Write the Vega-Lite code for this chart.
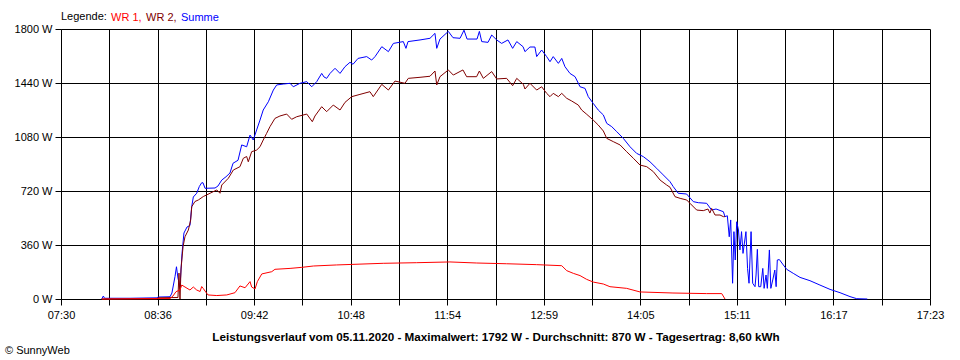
{
  "$schema": "https://vega.github.io/schema/vega-lite/v6.json",
  "width": 869,
  "height": 270,
  "autosize": "none",
  "padding": {"left": 61, "top": 29, "right": 30, "bottom": 61},
  "background": "white",
  "config": {
    "view": {"stroke": null},
    "font": "Liberation Sans",
    "axis": {"labelFont": "Liberation Sans", "labelFontSize": 11, "labelColor": "black", "domainColor": "black", "tickColor": "black", "gridColor": "black", "gridOpacity": 1, "gridWidth": 1, "domainWidth": 1, "tickWidth": 1, "tickSize": 6}
  },
  "title": {"text": "© SunnyWeb", "orient": "bottom", "anchor": "start", "frame": "group", "dx": -56, "offset": 2, "fontSize": 11, "fontWeight": "normal", "font": "Liberation Sans", "color": "black"},
  "datasets": {
    "p": [
      {"t": 477.8, "w": 0, "s": "Summe"}, {"t": 478.9, "w": 20, "s": "Summe"}, {"t": 479.7, "w": 5, "s": "Summe"}, {"t": 497.1, "w": 5, "s": "Summe"}, {"t": 515.5, "w": 8, "s": "Summe"}, {"t": 516.2, "w": 13, "s": "Summe"}, {"t": 524.4, "w": 15, "s": "Summe"}, {"t": 525.7, "w": 40, "s": "Summe"}, {"t": 527.8, "w": 150, "s": "Summe"}, {"t": 528.8, "w": 215, "s": "Summe"}, {"t": 529.8, "w": 140, "s": "Summe"}, {"t": 531.2, "w": 80, "s": "Summe"}, {"t": 532.6, "w": 305, "s": "Summe"}, {"t": 533.9, "w": 440, "s": "Summe"}, {"t": 536.0, "w": 480, "s": "Summe"}, {"t": 538.0, "w": 490, "s": "Summe"}, {"t": 539.2, "w": 615, "s": "Summe"}, {"t": 540.3, "w": 680, "s": "Summe"}, {"t": 542.6, "w": 705, "s": "Summe"}, {"t": 544.4, "w": 750, "s": "Summe"}, {"t": 546.0, "w": 775, "s": "Summe"}, {"t": 546.9, "w": 775, "s": "Summe"}, {"t": 548.3, "w": 738, "s": "Summe"}, {"t": 555.1, "w": 740, "s": "Summe"}, {"t": 557.1, "w": 753, "s": "Summe"}, {"t": 559.7, "w": 793, "s": "Summe"}, {"t": 562.6, "w": 815, "s": "Summe"}, {"t": 565.3, "w": 840, "s": "Summe"}, {"t": 567.4, "w": 905, "s": "Summe"}, {"t": 570.8, "w": 925, "s": "Summe"}, {"t": 573.3, "w": 1027, "s": "Summe"}, {"t": 576.7, "w": 1015, "s": "Summe"}, {"t": 579.0, "w": 1093, "s": "Summe"}, {"t": 581.2, "w": 1060, "s": "Summe"}, {"t": 583.5, "w": 1127, "s": "Summe"}, {"t": 585.8, "w": 1193, "s": "Summe"}, {"t": 588.0, "w": 1260, "s": "Summe"}, {"t": 591.5, "w": 1315, "s": "Summe"}, {"t": 594.9, "w": 1393, "s": "Summe"}, {"t": 597.2, "w": 1427, "s": "Summe"}, {"t": 601.7, "w": 1433, "s": "Summe"}, {"t": 606.3, "w": 1438, "s": "Summe"}, {"t": 608.5, "w": 1415, "s": "Summe"}, {"t": 613.1, "w": 1438, "s": "Summe"}, {"t": 617.7, "w": 1449, "s": "Summe"}, {"t": 621.1, "w": 1415, "s": "Summe"}, {"t": 624.5, "w": 1449, "s": "Summe"}, {"t": 627.9, "w": 1504, "s": "Summe"}, {"t": 629.5, "w": 1480, "s": "Summe"}, {"t": 631.3, "w": 1471, "s": "Summe"}, {"t": 633.6, "w": 1504, "s": "Summe"}, {"t": 637.0, "w": 1538, "s": "Summe"}, {"t": 640.4, "w": 1504, "s": "Summe"}, {"t": 643.8, "w": 1549, "s": "Summe"}, {"t": 647.2, "w": 1578, "s": "Summe"}, {"t": 649.3, "w": 1565, "s": "Summe"}, {"t": 652.7, "w": 1604, "s": "Summe"}, {"t": 658.6, "w": 1616, "s": "Summe"}, {"t": 662.0, "w": 1593, "s": "Summe"}, {"t": 664.3, "w": 1616, "s": "Summe"}, {"t": 668.9, "w": 1682, "s": "Summe"}, {"t": 673.4, "w": 1649, "s": "Summe"}, {"t": 676.8, "w": 1704, "s": "Summe"}, {"t": 683.6, "w": 1716, "s": "Summe"}, {"t": 685.4, "w": 1671, "s": "Summe"}, {"t": 686.8, "w": 1716, "s": "Summe"}, {"t": 695.0, "w": 1727, "s": "Summe"}, {"t": 701.8, "w": 1738, "s": "Summe"}, {"t": 705.2, "w": 1771, "s": "Summe"}, {"t": 706.4, "w": 1671, "s": "Summe"}, {"t": 708.6, "w": 1733, "s": "Summe"}, {"t": 714.3, "w": 1784, "s": "Summe"}, {"t": 717.5, "w": 1742, "s": "Summe"}, {"t": 722.3, "w": 1738, "s": "Summe"}, {"t": 725.0, "w": 1792, "s": "Summe"}, {"t": 727.1, "w": 1733, "s": "Summe"}, {"t": 733.9, "w": 1733, "s": "Summe"}, {"t": 735.5, "w": 1784, "s": "Summe"}, {"t": 737.1, "w": 1716, "s": "Summe"}, {"t": 741.4, "w": 1711, "s": "Summe"}, {"t": 743.9, "w": 1760, "s": "Summe"}, {"t": 747.3, "w": 1727, "s": "Summe"}, {"t": 750.7, "w": 1704, "s": "Summe"}, {"t": 755.0, "w": 1727, "s": "Summe"}, {"t": 758.2, "w": 1671, "s": "Summe"}, {"t": 761.0, "w": 1716, "s": "Summe"}, {"t": 765.3, "w": 1682, "s": "Summe"}, {"t": 766.6, "w": 1649, "s": "Summe"}, {"t": 770.0, "w": 1680, "s": "Summe"}, {"t": 773.4, "w": 1680, "s": "Summe"}, {"t": 774.6, "w": 1616, "s": "Summe"}, {"t": 778.0, "w": 1660, "s": "Summe"}, {"t": 781.4, "w": 1616, "s": "Summe"}, {"t": 783.7, "w": 1582, "s": "Summe"}, {"t": 785.9, "w": 1616, "s": "Summe"}, {"t": 789.4, "w": 1571, "s": "Summe"}, {"t": 791.7, "w": 1604, "s": "Summe"}, {"t": 793.9, "w": 1549, "s": "Summe"}, {"t": 797.3, "w": 1504, "s": "Summe"}, {"t": 800.8, "w": 1482, "s": "Summe"}, {"t": 804.2, "w": 1415, "s": "Summe"}, {"t": 807.6, "w": 1404, "s": "Summe"}, {"t": 809.8, "w": 1349, "s": "Summe"}, {"t": 813.2, "w": 1304, "s": "Summe"}, {"t": 816.6, "w": 1260, "s": "Summe"}, {"t": 820.1, "w": 1227, "s": "Summe"}, {"t": 822.4, "w": 1171, "s": "Summe"}, {"t": 825.8, "w": 1149, "s": "Summe"}, {"t": 829.2, "w": 1116, "s": "Summe"}, {"t": 833.7, "w": 1071, "s": "Summe"}, {"t": 838.3, "w": 1015, "s": "Summe"}, {"t": 842.8, "w": 971, "s": "Summe"}, {"t": 847.4, "w": 949, "s": "Summe"}, {"t": 851.9, "w": 915, "s": "Summe"}, {"t": 856.5, "w": 871, "s": "Summe"}, {"t": 861.0, "w": 827, "s": "Summe"}, {"t": 865.6, "w": 782, "s": "Summe"}, {"t": 867.8, "w": 749, "s": "Summe"}, {"t": 871.2, "w": 705, "s": "Summe"}, {"t": 876.9, "w": 700, "s": "Summe"}, {"t": 881.5, "w": 649, "s": "Summe"}, {"t": 884.9, "w": 642, "s": "Summe"}, {"t": 890.6, "w": 638, "s": "Summe"}, {"t": 894.0, "w": 593, "s": "Summe"}, {"t": 897.0, "w": 600, "s": "Summe"}, {"t": 902.0, "w": 582, "s": "Summe"}, {"t": 903.1, "w": 549, "s": "Summe"}, {"t": 904.7, "w": 555, "s": "Summe"}, {"t": 906.0, "w": 415, "s": "Summe"}, {"t": 907.0, "w": 527, "s": "Summe"}, {"t": 908.3, "w": 105, "s": "Summe"}, {"t": 909.2, "w": 449, "s": "Summe"}, {"t": 910.1, "w": 260, "s": "Summe"}, {"t": 911.1, "w": 515, "s": "Summe"}, {"t": 912.3, "w": 460, "s": "Summe"}, {"t": 913.3, "w": 327, "s": "Summe"}, {"t": 914.4, "w": 449, "s": "Summe"}, {"t": 915.4, "w": 304, "s": "Summe"}, {"t": 917.4, "w": 449, "s": "Summe"}, {"t": 918.5, "w": 204, "s": "Summe"}, {"t": 919.5, "w": 105, "s": "Summe"}, {"t": 920.9, "w": 449, "s": "Summe"}, {"t": 922.0, "w": 105, "s": "Summe"}, {"t": 923.6, "w": 82, "s": "Summe"}, {"t": 924.3, "w": 160, "s": "Summe"}, {"t": 925.2, "w": 331, "s": "Summe"}, {"t": 926.1, "w": 82, "s": "Summe"}, {"t": 927.5, "w": 82, "s": "Summe"}, {"t": 928.9, "w": 204, "s": "Summe"}, {"t": 929.8, "w": 71, "s": "Summe"}, {"t": 931.1, "w": 160, "s": "Summe"}, {"t": 932.0, "w": 71, "s": "Summe"}, {"t": 933.4, "w": 327, "s": "Summe"}, {"t": 934.4, "w": 71, "s": "Summe"}, {"t": 935.7, "w": 127, "s": "Summe"}, {"t": 937.1, "w": 193, "s": "Summe"}, {"t": 938.0, "w": 82, "s": "Summe"}, {"t": 938.8, "w": 260, "s": "Summe"}, {"t": 940.2, "w": 263, "s": "Summe"}, {"t": 942.9, "w": 227, "s": "Summe"}, {"t": 945.2, "w": 198, "s": "Summe"}, {"t": 949.7, "w": 171, "s": "Summe"}, {"t": 954.3, "w": 144, "s": "Summe"}, {"t": 961.1, "w": 122, "s": "Summe"}, {"t": 967.9, "w": 93, "s": "Summe"}, {"t": 974.8, "w": 64, "s": "Summe"}, {"t": 981.6, "w": 42, "s": "Summe"}, {"t": 988.4, "w": 16, "s": "Summe"}, {"t": 993.0, "w": 2, "s": "Summe"}, {"t": 1000.2, "w": 0, "s": "Summe"},

      {"t": 477.8, "w": 0, "s": "WR 2"}, {"t": 515.5, "w": 0, "s": "WR 2"}, {"t": 516.2, "w": 8, "s": "WR 2"}, {"t": 529.8, "w": 10, "s": "WR 2"}, {"t": 530.5, "w": 173, "s": "WR 2"}, {"t": 531.2, "w": 0, "s": "WR 2"}, {"t": 531.9, "w": 200, "s": "WR 2"}, {"t": 533.3, "w": 350, "s": "WR 2"}, {"t": 534.6, "w": 415, "s": "WR 2"}, {"t": 536.9, "w": 460, "s": "WR 2"}, {"t": 538.5, "w": 527, "s": "WR 2"}, {"t": 539.2, "w": 615, "s": "WR 2"}, {"t": 541.4, "w": 650, "s": "WR 2"}, {"t": 543.7, "w": 660, "s": "WR 2"}, {"t": 547.1, "w": 683, "s": "WR 2"}, {"t": 551.7, "w": 705, "s": "WR 2"}, {"t": 556.3, "w": 727, "s": "WR 2"}, {"t": 558.5, "w": 705, "s": "WR 2"}, {"t": 559.7, "w": 760, "s": "WR 2"}, {"t": 564.2, "w": 805, "s": "WR 2"}, {"t": 567.6, "w": 860, "s": "WR 2"}, {"t": 572.1, "w": 882, "s": "WR 2"}, {"t": 574.4, "w": 938, "s": "WR 2"}, {"t": 576.7, "w": 950, "s": "WR 2"}, {"t": 577.8, "w": 915, "s": "WR 2"}, {"t": 580.1, "w": 982, "s": "WR 2"}, {"t": 583.5, "w": 993, "s": "WR 2"}, {"t": 585.8, "w": 1015, "s": "WR 2"}, {"t": 588.0, "w": 1060, "s": "WR 2"}, {"t": 590.3, "w": 1104, "s": "WR 2"}, {"t": 592.6, "w": 1149, "s": "WR 2"}, {"t": 596.0, "w": 1204, "s": "WR 2"}, {"t": 599.4, "w": 1220, "s": "WR 2"}, {"t": 604.0, "w": 1233, "s": "WR 2"}, {"t": 607.4, "w": 1198, "s": "WR 2"}, {"t": 610.8, "w": 1215, "s": "WR 2"}, {"t": 617.7, "w": 1233, "s": "WR 2"}, {"t": 621.5, "w": 1182, "s": "WR 2"}, {"t": 623.3, "w": 1220, "s": "WR 2"}, {"t": 627.9, "w": 1282, "s": "WR 2"}, {"t": 631.3, "w": 1249, "s": "WR 2"}, {"t": 635.8, "w": 1293, "s": "WR 2"}, {"t": 640.4, "w": 1260, "s": "WR 2"}, {"t": 643.8, "w": 1311, "s": "WR 2"}, {"t": 648.4, "w": 1349, "s": "WR 2"}, {"t": 654.0, "w": 1364, "s": "WR 2"}, {"t": 660.8, "w": 1382, "s": "WR 2"}, {"t": 663.1, "w": 1349, "s": "WR 2"}, {"t": 668.9, "w": 1431, "s": "WR 2"}, {"t": 673.4, "w": 1393, "s": "WR 2"}, {"t": 677.9, "w": 1453, "s": "WR 2"}, {"t": 684.7, "w": 1438, "s": "WR 2"}, {"t": 687.0, "w": 1471, "s": "WR 2"}, {"t": 695.0, "w": 1478, "s": "WR 2"}, {"t": 701.8, "w": 1485, "s": "WR 2"}, {"t": 705.2, "w": 1520, "s": "WR 2"}, {"t": 706.4, "w": 1427, "s": "WR 2"}, {"t": 708.6, "w": 1482, "s": "WR 2"}, {"t": 714.3, "w": 1527, "s": "WR 2"}, {"t": 717.7, "w": 1493, "s": "WR 2"}, {"t": 724.3, "w": 1527, "s": "WR 2"}, {"t": 726.8, "w": 1482, "s": "WR 2"}, {"t": 733.6, "w": 1482, "s": "WR 2"}, {"t": 735.5, "w": 1520, "s": "WR 2"}, {"t": 738.2, "w": 1471, "s": "WR 2"}, {"t": 743.9, "w": 1516, "s": "WR 2"}, {"t": 747.3, "w": 1467, "s": "WR 2"}, {"t": 754.1, "w": 1471, "s": "WR 2"}, {"t": 758.2, "w": 1422, "s": "WR 2"}, {"t": 761.0, "w": 1471, "s": "WR 2"}, {"t": 765.5, "w": 1431, "s": "WR 2"}, {"t": 766.6, "w": 1400, "s": "WR 2"}, {"t": 770.0, "w": 1438, "s": "WR 2"}, {"t": 774.6, "w": 1393, "s": "WR 2"}, {"t": 778.0, "w": 1415, "s": "WR 2"}, {"t": 781.4, "w": 1371, "s": "WR 2"}, {"t": 783.7, "w": 1349, "s": "WR 2"}, {"t": 785.9, "w": 1371, "s": "WR 2"}, {"t": 789.4, "w": 1349, "s": "WR 2"}, {"t": 791.7, "w": 1371, "s": "WR 2"}, {"t": 795.1, "w": 1338, "s": "WR 2"}, {"t": 798.5, "w": 1320, "s": "WR 2"}, {"t": 803.0, "w": 1293, "s": "WR 2"}, {"t": 805.3, "w": 1260, "s": "WR 2"}, {"t": 808.8, "w": 1231, "s": "WR 2"}, {"t": 813.2, "w": 1193, "s": "WR 2"}, {"t": 816.6, "w": 1160, "s": "WR 2"}, {"t": 820.1, "w": 1120, "s": "WR 2"}, {"t": 822.4, "w": 1071, "s": "WR 2"}, {"t": 826.9, "w": 1049, "s": "WR 2"}, {"t": 831.5, "w": 1027, "s": "WR 2"}, {"t": 836.0, "w": 982, "s": "WR 2"}, {"t": 840.6, "w": 938, "s": "WR 2"}, {"t": 845.1, "w": 893, "s": "WR 2"}, {"t": 849.7, "w": 882, "s": "WR 2"}, {"t": 854.2, "w": 849, "s": "WR 2"}, {"t": 858.8, "w": 793, "s": "WR 2"}, {"t": 863.3, "w": 760, "s": "WR 2"}, {"t": 865.6, "w": 745, "s": "WR 2"}, {"t": 869.0, "w": 682, "s": "WR 2"}, {"t": 872.5, "w": 671, "s": "WR 2"}, {"t": 877.0, "w": 660, "s": "WR 2"}, {"t": 879.2, "w": 638, "s": "WR 2"}, {"t": 883.8, "w": 593, "s": "WR 2"}, {"t": 888.3, "w": 589, "s": "WR 2"}, {"t": 891.5, "w": 600, "s": "WR 2"}, {"t": 892.8, "w": 573, "s": "WR 2"}, {"t": 894.0, "w": 604, "s": "WR 2"}, {"t": 896.3, "w": 560, "s": "WR 2"}, {"t": 899.7, "w": 560, "s": "WR 2"}, {"t": 902.0, "w": 549, "s": "WR 2"}, {"t": 903.1, "w": 549, "s": "WR 2"},

      {"t": 477.8, "w": 0, "s": "WR 1"}, {"t": 510.7, "w": 3, "s": "WR 1"}, {"t": 524.4, "w": 3, "s": "WR 1"}, {"t": 526.4, "w": 20, "s": "WR 1"}, {"t": 528.5, "w": 49, "s": "WR 1"}, {"t": 531.2, "w": 60, "s": "WR 1"}, {"t": 532.4, "w": 93, "s": "WR 1"}, {"t": 534.6, "w": 80, "s": "WR 1"}, {"t": 538.0, "w": 60, "s": "WR 1"}, {"t": 540.3, "w": 80, "s": "WR 1"}, {"t": 542.6, "w": 60, "s": "WR 1"}, {"t": 544.9, "w": 50, "s": "WR 1"}, {"t": 546.0, "w": 83, "s": "WR 1"}, {"t": 547.1, "w": 70, "s": "WR 1"}, {"t": 548.3, "w": 53, "s": "WR 1"}, {"t": 550.3, "w": 27, "s": "WR 1"}, {"t": 556.3, "w": 23, "s": "WR 1"}, {"t": 563.1, "w": 27, "s": "WR 1"}, {"t": 568.7, "w": 42, "s": "WR 1"}, {"t": 572.1, "w": 87, "s": "WR 1"}, {"t": 575.6, "w": 75, "s": "WR 1"}, {"t": 579.0, "w": 116, "s": "WR 1"}, {"t": 580.1, "w": 80, "s": "WR 1"}, {"t": 582.4, "w": 67, "s": "WR 1"}, {"t": 584.0, "w": 116, "s": "WR 1"}, {"t": 587.0, "w": 167, "s": "WR 1"}, {"t": 593.8, "w": 182, "s": "WR 1"}, {"t": 596.0, "w": 198, "s": "WR 1"}, {"t": 606.3, "w": 204, "s": "WR 1"}, {"t": 614.3, "w": 211, "s": "WR 1"}, {"t": 622.2, "w": 220, "s": "WR 1"}, {"t": 638.1, "w": 227, "s": "WR 1"}, {"t": 669.9, "w": 238, "s": "WR 1"}, {"t": 692.7, "w": 242, "s": "WR 1"}, {"t": 715.4, "w": 247, "s": "WR 1"}, {"t": 733.7, "w": 240, "s": "WR 1"}, {"t": 754.1, "w": 235, "s": "WR 1"}, {"t": 774.6, "w": 229, "s": "WR 1"}, {"t": 791.7, "w": 222, "s": "WR 1"}, {"t": 795.1, "w": 189, "s": "WR 1"}, {"t": 799.6, "w": 171, "s": "WR 1"}, {"t": 804.2, "w": 156, "s": "WR 1"}, {"t": 808.7, "w": 131, "s": "WR 1"}, {"t": 813.2, "w": 113, "s": "WR 1"}, {"t": 820.1, "w": 100, "s": "WR 1"}, {"t": 824.6, "w": 82, "s": "WR 1"}, {"t": 836.0, "w": 71, "s": "WR 1"}, {"t": 845.1, "w": 47, "s": "WR 1"}, {"t": 867.6, "w": 40, "s": "WR 1"}, {"t": 890.6, "w": 36, "s": "WR 1"}, {"t": 900.9, "w": 36, "s": "WR 1"}, {"t": 903.1, "w": 0, "s": "WR 1"}
    ]
  },
  "layer": [
    {
      "mark": {"type": "rule", "color": "#8c8c8c", "strokeWidth": 1},
      "encoding": {"y": {"datum": 870, "type": "quantitative"}}
    },
    {
      "data": {"name": "p"},
      "mark": {"type": "line", "strokeWidth": 1, "interpolate": "linear"},
      "encoding": {
        "x": {
          "field": "t", "type": "quantitative",
          "scale": {"domain": [450, 1043], "nice": false, "zero": false},
          "axis": {
            "values": [450, 482.944, 515.889, 548.833, 581.778, 614.722, 647.667, 680.611, 713.556, 746.5, 779.444, 812.389, 845.333, 878.278, 911.222, 944.167, 977.111, 1010.056, 1043],
            "labelExpr": "round((datum.value-450)/32.9444) % 2 == 0 ? ((floor(round(datum.value)/60) < 10 ? '0' : '') + floor(round(datum.value)/60) + ':' + (round(datum.value) % 60 < 10 ? '0' : '') + (round(datum.value) % 60)) : ''",
            "labelOverlap": false, "labelFlush": false, "labelBound": false,
            "labelPadding": 4,
            "grid": true,
            "title": "Leistungsverlauf vom 05.11.2020 - Maximalwert: 1792 W - Durchschnitt: 870 W - Tagesertrag: 8,60 kWh",
            "titleFont": "Liberation Sans", "titleFontSize": 11.7, "titleFontWeight": "bold", "titleColor": "black", "titlePadding": 11
          }
        },
        "y": {
          "field": "w", "type": "quantitative",
          "scale": {"domain": [0, 1800], "nice": false},
          "axis": {
            "values": [0, 360, 720, 1080, 1440, 1800],
            "labelExpr": "datum.value + ' W'",
            "labelPadding": 3,
            "grid": true,
            "title": null
          }
        },
        "color": {
          "field": "s", "type": "nominal",
          "scale": {"domain": ["WR 1", "WR 2", "Summe"], "range": ["#ff0000", "#800000", "#0000ff"]},
          "legend": {
            "orient": "none", "legendX": 0, "legendY": -17, "direction": "horizontal",
            "title": "Legende:", "titleOrient": "left", "titleFont": "Liberation Sans", "titleFontSize": 11, "titleFontWeight": "normal", "titleColor": "black", "titlePadding": 3,
            "labelFont": "Liberation Sans", "labelFontSize": 11, "labelOffset": -10,
            "symbolSize": 0, "symbolStrokeWidth": 0, "symbolOpacity": 0, "columnPadding": 3,
            "labelExpr": "datum.label == 'Summe' ? 'Summe' : datum.label + ','",
            "encode": {"labels": {"update": {"fill": {"signal": "scale('color', datum.value)"}}}}
          }
        },
        "order": {"field": "t", "type": "quantitative"}
      }
    }
  ]
}
